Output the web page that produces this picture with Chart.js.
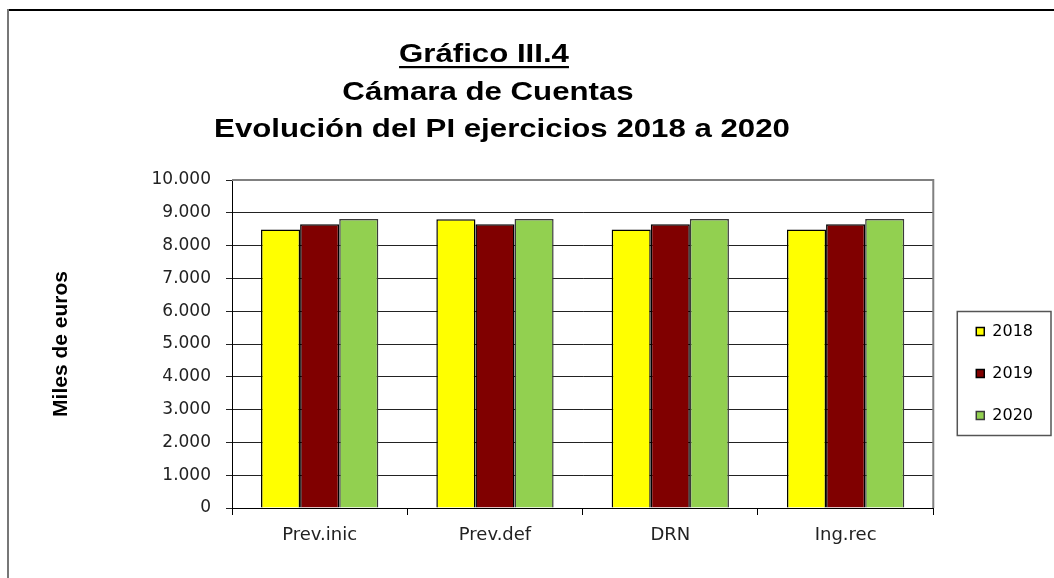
<!DOCTYPE html>
<html>
<head>
<meta charset="utf-8">
<script src="https://cdn.jsdelivr.net/npm/chart.js@4"></script>
<style>
  html, body { margin: 0; padding: 0; background: #fff; }
</style>
</head>
<body>
<canvas id="myChart" width="1054" height="578"></canvas>
<script>
var categories = ['Prev.inic', 'Prev.def', 'DRN', 'Ing.rec'];
var years = ['2018', '2019', '2020'];
var values2018 = [8490, 8800, 8490, 8490];
var values2019 = [8650, 8650, 8650, 8650];
var values2020 = [8810, 8810, 8810, 8810];
var yTickLabels = ['0', '1.000', '2.000', '3.000', '4.000', '5.000', '6.000', '7.000', '8.000', '9.000', '10.000'];
var titleLines = ['Gráfico III.4', 'Cámara de Cuentas', 'Evolución del PI ejercicios 2018 a 2020'];
var yAxisTitle = 'Miles de euros';

var chartColors = {
    "2018": "#ffff00",
    "2019": "#800000",
    "2020": "#92d050"
};
var borderColors = {
    "2018": "#000000",
    "2019": "#000000",
    "2020": "#3a3a3a"
};

// frame round the whole picture + the three title lines
var framePlugin = {
    id: 'frame',
    afterDraw: function(chart) {
        var ctx = chart.ctx;
        ctx.save();
        ctx.strokeStyle = '#000';
        ctx.lineWidth = 2;
        ctx.beginPath();
        ctx.moveTo(7, 10);
        ctx.lineTo(1054, 10);
        ctx.stroke();
        ctx.strokeStyle = '#777';
        ctx.beginPath();
        ctx.moveTo(8, 9);
        ctx.lineTo(8, 578);
        ctx.stroke();

        // the title of the original is a little wider than plain Arial
        ctx.fillStyle = '#000';
        ctx.textAlign = 'center';
        ctx.textBaseline = 'alphabetic';
        ctx.font = 'bold 26px "Liberation Sans", Arial, sans-serif';
        var sx = 1.2;
        var baselines = [62, 100, 137];
        var centers = [484, 488, 502];
        titleLines.forEach(function(line, i) {
            ctx.save();
            ctx.translate(centers[i], baselines[i]);
            ctx.scale(sx, 1);
            ctx.fillText(line, 0, 0);
            if (i === 0) {
                var w = ctx.measureText(line).width;
                ctx.fillRect(-w / 2, 4, w, 2.2);
            }
            ctx.restore();
        });
        ctx.restore();
    }
};

// grey top/right edge of the plot area and the box round the legend
var boxPlugin = {
    id: 'boxes',
    afterDraw: function(chart) {
        var ctx = chart.ctx;
        var a = chart.chartArea;
        ctx.save();
        ctx.strokeStyle = '#808080';
        ctx.lineWidth = 2;
        ctx.beginPath();
        ctx.moveTo(a.left, a.top);
        ctx.lineTo(a.right, a.top);
        ctx.lineTo(a.right, a.bottom);
        ctx.stroke();

        var hb = chart.legend.legendHitBoxes;
        if (hb && hb.length) {
            var first = hb[0], last = hb[hb.length - 1];
            var x0 = first.left - 19;
            var x1 = first.left + first.width + 18;
            var y0 = first.top - 12;
            var y1 = last.top + last.height + 12;
            ctx.strokeStyle = '#555';
            ctx.lineWidth = 1.5;
            ctx.strokeRect(x0, y0, x1 - x0, y1 - y0);
        }
        ctx.restore();
    }
};

var config = {
    type: 'bar',
    data: {
        labels: categories,
        datasets: [
            { label: years[0], data: values2018, backgroundColor: chartColors["2018"], borderColor: borderColors["2018"], borderWidth: 1.5 },
            { label: years[1], data: values2019, backgroundColor: chartColors["2019"], borderColor: borderColors["2019"], borderWidth: 1.5 },
            { label: years[2], data: values2020, backgroundColor: chartColors["2020"], borderColor: borderColors["2020"], borderWidth: 1.5 }
        ]
    },
    options: {
        responsive: false,
        animation: false,
        devicePixelRatio: 1,
        layout: { padding: { left: 36, top: 180, right: 11, bottom: 11 } },
        datasets: { bar: { categoryPercentage: 0.669, barPercentage: 1.0, borderSkipped: 'bottom' } },
        scales: {
            x: {
                grid: { display: true, drawOnChartArea: false, tickLength: 7, color: '#000', offset: true },
                border: { display: true, color: '#000', width: 1 },
                ticks: { color: '#222', padding: 10, maxRotation: 0, font: { family: 'DejaVu Sans', size: 18 } },
                afterFit: function(scale) { scale.height = 59; }
            },
            y: {
                min: 0,
                max: 10000,
                ticks: {
                    stepSize: 1000,
                    padding: 15,
                    color: '#222',
                    font: { family: 'DejaVu Sans', size: 17 },
                    callback: function(value, index) { return yTickLabels[index]; }
                },
                grid: { color: '#222', tickLength: 6 },
                border: { color: '#000', width: 1 },
                title: {
                    display: true,
                    text: yAxisTitle,
                    color: '#000',
                    padding: { top: 13, bottom: 0 },
                    font: { family: 'Liberation Sans', size: 21, weight: 'bold' }
                },
                afterFit: function(scale) { scale.width = 232 - 36; }
            },
            yR: {
                type: 'linear',
                position: 'right',
                display: true,
                grid: { display: false },
                border: { display: false },
                ticks: { display: false },
                afterFit: function(scale) { scale.width = 17; }
            }
        },
        plugins: {
            title: { display: false },
            tooltip: { enabled: false },
            legend: {
                position: 'right',
                align: 'center',
                labels: {
                    boxWidth: 8,
                    boxHeight: 8,
                    padding: 26,
                    color: '#000',
                    font: { family: 'DejaVu Sans', size: 16 }
                }
            }
        }
    },
    plugins: [framePlugin, boxPlugin]
};

var myChart = new Chart(document.getElementById('myChart').getContext('2d'), config);
</script>
</body>
</html>
